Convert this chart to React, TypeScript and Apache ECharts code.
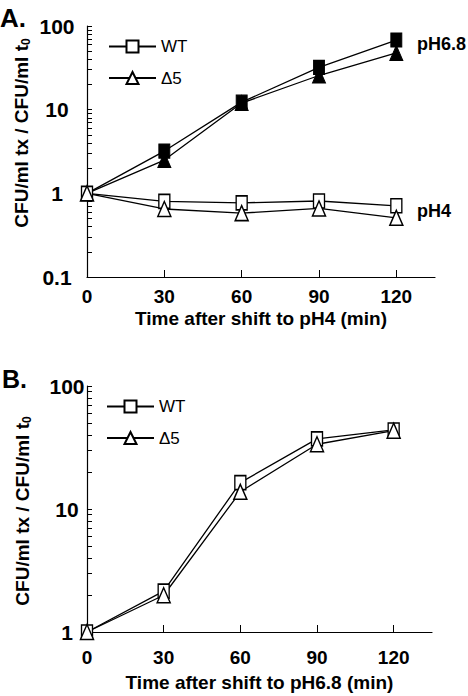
import React, { useEffect, useRef } from 'react';
import * as echarts from 'echarts';

const times = [0, 30, 60, 90, 120];
// Panel A
const wtPH4 = [1, 0.8, 0.77, 0.81, 0.71];
const d5PH4 = [1, 0.65, 0.58, 0.66, 0.51];
const wtPH68A = [1, 3.2, 12.3, 32, 68];
const d5PH68A = [1, 2.5, 12, 25.6, 47.7];
// Panel B
const wtB = [1, 2.15, 16.4, 37.2, 43.9];
const d5B = [1, 1.99, 13.8, 33.6, 43.3];

const xTicks = [0, 30, 60, 90, 120];
const yLabelsA = [0.1, 1, 10, 100];
const yLabelsB = [1, 10, 100];
const yTicksA = [0.1, 0.2, 0.3, 0.4, 0.5, 0.6, 0.7, 0.8, 0.9, 1, 2, 3, 4, 5, 6, 7, 8, 9, 10, 20, 30, 40, 50, 60, 70, 80, 90, 100];
const yTicksB = [1, 2, 3, 4, 5, 6, 7, 8, 9, 10, 20, 30, 40, 50, 60, 70, 80, 90, 100];

const FONT = '"Liberation Sans", Arial, Helvetica, sans-serif';

const pairs = (ys: number[]) => times.map((t, i) => [t, ys[i]]);

function openSeries(name: string, ys: number[], symbol: string, size: number[], xi: number) {
  return {
    type: 'line',
    name,
    xAxisIndex: xi,
    yAxisIndex: xi,
    data: pairs(ys),
    symbol,
    symbolSize: size,
    showAllSymbol: true,
    lineStyle: { color: '#000', width: 1.3 },
    itemStyle: { color: '#fff', borderColor: '#000', borderWidth: 1.5 },
    z: 3,
  };
}

function filledSeries(name: string, ys: number[], symbol: string, size: number[]) {
  return {
    type: 'line',
    name,
    xAxisIndex: 0,
    yAxisIndex: 0,
    data: times.map((t, i) => (i === 0 ? { value: [t, ys[i]], symbol: 'none' } : [t, ys[i]])),
    symbol,
    symbolSize: size,
    lineStyle: { color: '#000', width: 1.3 },
    itemStyle: { color: '#000', borderColor: '#000', borderWidth: 1 },
    z: 2,
  };
}

function xAxis(gridIndex: number, name: string, labelMargin: number, nameGap: number) {
  return {
    type: 'value',
    gridIndex,
    min: 0,
    max: 135,
    interval: 30,
    name,
    nameLocation: 'middle',
    nameGap,
    nameTextStyle: { fontFamily: FONT, fontWeight: 'bold', fontSize: 19, color: '#000' },
    axisLine: { onZero: false, lineStyle: { color: '#000', width: 1.2 } },
    axisTick: { inside: true, length: 7, customValues: xTicks, lineStyle: { color: '#000', width: 1 } },
    axisLabel: {
      customValues: xTicks,
      margin: labelMargin,
      fontFamily: FONT,
      fontWeight: 'bold',
      fontSize: 19,
      color: '#000',
    },
    splitLine: { show: false },
  };
}

function yAxis(gridIndex: number, min: number, labels: number[], ticks: number[], margin: number) {
  return {
    type: 'log',
    logBase: 10,
    gridIndex,
    min,
    max: 100,
    axisLine: { onZero: false, lineStyle: { color: '#000', width: 1.2 } },
    axisTick: { inside: true, length: 5, customValues: ticks, lineStyle: { color: '#000', width: 1 } },
    axisLabel: {
      customValues: labels,
      margin,
      align: 'center',
      fontFamily: FONT,
      fontWeight: 'bold',
      fontSize: 21,
      color: '#000',
      formatter: (v: number) => String(v),
    },
    splitLine: { show: false },
    minorTick: { show: false },
  };
}

function legend(left: number, top: number) {
  return {
    orient: 'vertical',
    left,
    top,
    itemWidth: 47,
    itemHeight: 15,
    itemGap: 14.5,
    selectedMode: false,
    data: ['WT', 'Δ5'],
    textStyle: { fontFamily: FONT, fontSize: 17, color: '#000' },
  };
}

function yName(x: number, y: number) {
  return {
    type: 'text',
    x,
    y,
    rotation: Math.PI / 2,
    style: {
      text: '{a|CFU/ml tx / CFU/ml t}{b|0}',
      align: 'center',
      verticalAlign: 'middle',
      fill: '#000',
      rich: {
        a: { fontFamily: FONT, fontWeight: 'bold', fontSize: 19, fill: '#000', lineHeight: 22 },
        b: { fontFamily: FONT, fontWeight: 'bold', fontSize: 12, fill: '#000', verticalAlign: 'bottom', lineHeight: 22, padding: [8, 0, 0, 0] },
      },
    },
  };
}

const option = {
  animation: false,
  backgroundColor: '#fff',
  grid: [
    { left: 87, top: 26, width: 348, height: 251 },
    { left: 87, top: 386, width: 345, height: 246 },
  ],
  xAxis: [
    xAxis(0, 'Time after shift to pH4 (min)', 10, 32),
    xAxis(1, 'Time after shift to pH6.8 (min)', 16, 41),
  ],
  yAxis: [yAxis(0, 0.1, yLabelsA, yTicksA, 30), yAxis(1, 1, yLabelsB, yTicksB, 20)],
  legend: [legend(103, 33), legend(101, 393)],
  series: [
    filledSeries('WT pH6.8', wtPH68A, 'rect', [11, 14]),
    filledSeries('Δ5 pH6.8', d5PH68A, 'triangle', [13, 15]),
    openSeries('WT', wtPH4, 'rect', [11, 14], 0),
    openSeries('Δ5', d5PH4, 'triangle', [13, 15], 0),
    openSeries('WT', wtB, 'rect', [11, 14], 1),
    openSeries('Δ5', d5B, 'triangle', [13, 15], 1),
  ],
  graphic: [
    { type: 'text', left: 0, top: 5, style: { text: 'A.', font: `bold 26px ${FONT}`, fill: '#000' } },
    { type: 'text', left: 2, top: 366, style: { text: 'B.', font: `bold 25px ${FONT}`, fill: '#000' } },
    { type: 'text', left: 417, top: 35, style: { text: 'pH6.8', font: `bold 18px ${FONT}`, fill: '#000' } },
    { type: 'text', left: 417, top: 202, style: { text: 'pH4', font: `bold 18px ${FONT}`, fill: '#000' } },
    yName(21, 133),
    yName(22, 511),
  ],
};

export default function App() {
  const ref = useRef<HTMLDivElement>(null);
  useEffect(() => {
    const chart = echarts.init(ref.current!, null, { renderer: 'svg' });
    chart.setOption(option as any);
    return () => chart.dispose();
  }, []);
  return (
    <div
      ref={ref}
      style={{ position: 'absolute', left: 0, top: 0, width: 468, height: 696, background: '#fff' }}
    />
  );
}
